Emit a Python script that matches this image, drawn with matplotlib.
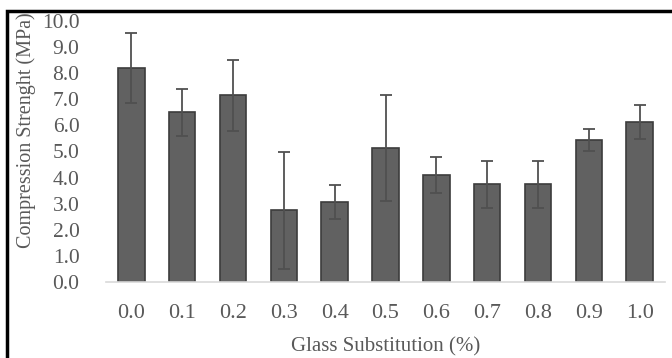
import matplotlib
matplotlib.use("Agg")
import matplotlib.pyplot as plt
from matplotlib.patches import Rectangle
import numpy as np

# glass substitution levels and measured strength
levels = ["0.0", "0.1", "0.2", "0.3", "0.4", "0.5", "0.6", "0.7", "0.8", "0.9", "1.0"]
strength = [8.2, 6.5, 7.15, 2.75, 3.08, 5.12, 4.1, 3.75, 3.75, 5.45, 6.13]
err = [1.35, 0.9, 1.35, 2.25, 0.65, 2.03, 0.68, 0.9, 0.9, 0.43, 0.67]
yticks = np.arange(0, 10.01, 1.0)

txt = "#595959"
plt.rcParams['font.family'] = ['Liberation Serif', 'DejaVu Serif']

fig = plt.figure(figsize=(6.72, 3.58), dpi=100)
ax = fig.add_axes([106/672, 1 - 282/358, (665-106)/672, (282-21)/358])

x = np.arange(len(levels))
ax.bar(x, strength, width=0.52, color="#616161", edgecolor="#3c3c3c", linewidth=1.2, zorder=2)
ax.errorbar(x, strength, yerr=err, fmt="none", ecolor="#505050", elinewidth=1.3,
            capsize=4.5, capthick=1.3, zorder=3)

ax.set_xlim(-0.5, 10.5)
ax.set_ylim(0, 10)
ax.set_yticks(yticks)
ax.set_yticklabels([f"{v:.1f}" for v in yticks])
ax.set_xticks(x)
ax.set_xticklabels(levels)
ax.tick_params(axis="x", length=0, labelsize=16, colors=txt, pad=16)
ax.tick_params(axis="y", length=0, labelsize=15.5, colors=txt, pad=19)
for s in ["top", "right", "left"]:
    ax.spines[s].set_visible(False)
ax.spines["bottom"].set_color("#d9d9d9")
ax.spines["bottom"].set_linewidth(1.2)

ax.set_xlabel("Glass Substitution (%)", fontsize=15, color=txt, labelpad=10)
fig.text(26/672, 1 - 130/358, "Compression Strenght (MPa)", rotation=90, fontsize=14.5,
         color=txt, ha="center", va="center")

# outer frame, cut off at right and bottom like the original
fig.patches.append(Rectangle((6.5/672, -0.1), 1.2, 1 - 10.5/358 + 0.1, transform=fig.transFigure,
                             fill=False, edgecolor="black", linewidth=2.5))

fig.savefig("out.png", dpi=100)
